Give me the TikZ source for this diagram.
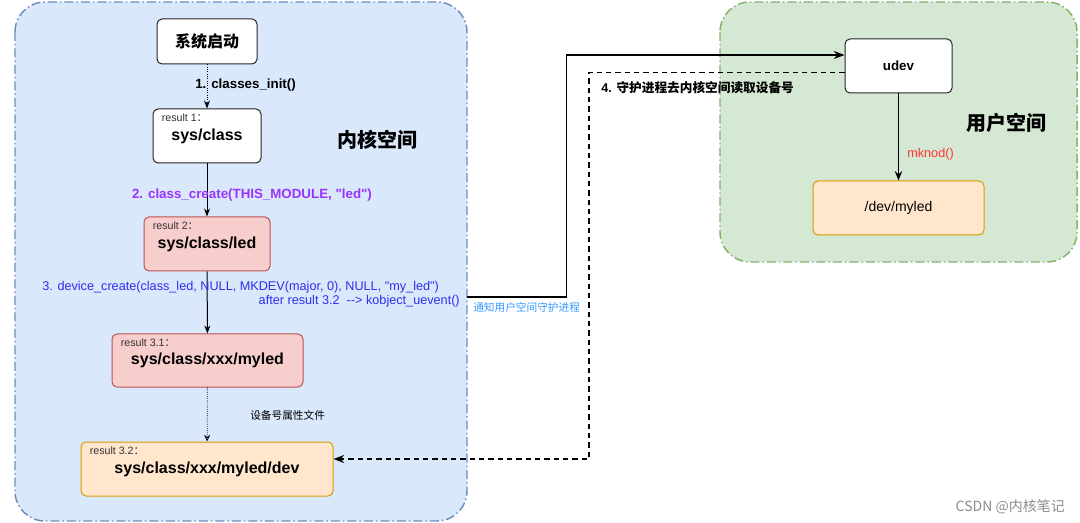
\documentclass[tikz,border=0pt]{standalone}
\usepackage{fontspec}
\setmainfont{Liberation Sans}[Ligatures=TeXOff]
\newfontfamily\cjk{Noto Sans CJK SC}
\usetikzlibrary{arrows.meta,positioning}

\newlength\pxu
\setlength\pxu{0.75pt}

\definecolor{kernelfill}{HTML}{DAE8FC}
\definecolor{kernelline}{HTML}{6C8EBF}
\definecolor{userfill}{HTML}{D5E8D4}
\definecolor{userline}{HTML}{82B366}
\definecolor{redfill}{HTML}{F8CECC}
\definecolor{redline}{HTML}{B85450}
\definecolor{orangefill}{HTML}{FFE6CC}
\definecolor{orangeline}{HTML}{D79B00}
\definecolor{stepviolet}{HTML}{9933FF}
\definecolor{stepblue}{HTML}{2E2EF0}
\definecolor{notifyblue}{HTML}{3399FF}
\definecolor{mkred}{HTML}{FF3333}

\tikzset{
  zone/.style={line width=1.1pt, rounded corners=30\pxu, dash pattern=on 9\pxu off 3\pxu on 1.5\pxu off 3\pxu},
  zonetitle/.style={font=\cjk\bfseries\fontsize{15}{18}\selectfont},
  plainbox/.style={draw=black!85, fill=white, rounded corners=5\pxu, line width=0.75pt, font=\bfseries\fontsize{12}{14}\selectfont},
  redbox/.style={plainbox, draw=redline, fill=redfill},
  orangebox/.style={plainbox, draw=orangeline, fill=orangefill},
  tag/.style={anchor=north west, inner sep=0pt, text=black!80, font=\fontsize{8}{9}\selectfont},
  steplabel/.style={inner sep=0pt, font=\bfseries\fontsize{10}{12}\selectfont},
  smalllabel/.style={inner sep=0pt, font=\cjk\fontsize{8}{9}\selectfont},
  flow/.style={line width=0.75pt, -{Stealth[length=6pt,width=4.5pt]}},
  longdash/.style={dash pattern=on 4pt off 3pt},
}

\begin{document}
\begin{tikzpicture}[x=0.75pt,y=-0.75pt]
\useasboundingbox (0,0) rectangle (1080,523);

% two spaces
\draw[zone, draw=kernelline, fill=kernelfill] (15,2) rectangle (467,521);
\draw[zone, draw=userline, fill=userfill] (720,2) rectangle (1077,262);
\node[zonetitle] (kerneltitle) at (377,140) {内核空间};
\node[zonetitle] (usertitle) at (1006,123) {用户空间};

% kernel side
\node[plainbox, minimum width=100\pxu, minimum height=45\pxu] (boot) at (207,41.5) {\cjk 系统启动};
\node[plainbox, minimum width=108\pxu, minimum height=54\pxu] (sysclass) at (207,136) {sys/class};
\node[redbox, minimum width=126\pxu, minimum height=54\pxu] (classled) at (207,244) {sys/class/led};
\node[redbox, minimum width=191\pxu, minimum height=53\pxu] (myled) at (207.5,360.5) {sys/class/xxx/myled};
\node[orangebox, minimum width=252\pxu, minimum height=54\pxu] (devfile) at (207,469) {sys/class/xxx/myled/dev};

\node[tag] (sysclasstag) at ([shift={(9,5)}]sysclass.north west) {result 1{\cjk ：}};
\node[tag] (classledtag) at ([shift={(9,5)}]classled.north west) {result 2{\cjk ：}};
\node[tag] (myledtag) at ([shift={(9,5)}]myled.north west) {result 3.1{\cjk ：}};
\node[tag] (devfiletag) at ([shift={(9,5)}]devfile.north west) {result 3.2{\cjk ：}};

\draw[flow, densely dotted] (boot) -- (sysclass);
\draw[flow] (sysclass) -- (classled);
\draw[flow] (classled) -- (myled);
\draw[line width=0.6pt, densely dotted, -{Stealth[open,length=5pt,width=4.5pt]}] (myled) -- (devfile);

\node[steplabel, anchor=west] (initlabel) at (195,85) {1. classes\_init()};
\node[steplabel, text=stepviolet] (createlabel) at (252,195) {2. class\_create(THIS\_MODULE, "led")};
\node[inner sep=0pt, anchor=west, text=stepblue, font=\fontsize{9.5}{11}\selectfont] (devlabel) at (42,287) {3. device\_create(class\_led, NULL, MKDEV(major, 0), NULL, "my\_led")};
\node[inner sep=0pt, anchor=east, text=stepblue, font=\fontsize{9.5}{11}\selectfont] (ueventlabel) at (460,301) {after result 3.2\ \ --> kobject\_uevent()};
\node[smalllabel, anchor=west] (attrlabel) at (250,415) {设备号属性文件};

% user side
\node[plainbox, minimum width=107\pxu, minimum height=54\pxu, font=\bfseries\fontsize{10}{12}\selectfont] (udev) at (898.5,66) {udev};
\node[orangebox, minimum width=171\pxu, minimum height=54\pxu, font=\fontsize{10.5}{12}\selectfont] (mydev) at (898.5,208) {/dev/myled};
\draw[line width=1.4pt, -{Stealth[length=7pt,width=5.5pt]}] (udev) -- (mydev);
\node[inner sep=0pt, anchor=west, text=mkred, font=\fontsize{9.5}{11}\selectfont] (mknodlabel) at (907,154) {mknod()};

% between the spaces
\coordinate (uevent) at (467,297);
\draw[line width=1.1pt, -{Stealth[length=8pt,width=6pt]}] (uevent) -- (566.5,297) |- ([shift={(0,-11)}]udev.west);
\draw[line width=1.1pt, longdash, -{Stealth[length=8pt,width=6pt]}] ([shift={(0,6.5)}]udev.west) -| (589,459) -- ([shift={(0,-10)}]devfile.east);
\node[smalllabel, anchor=west, text=notifyblue] (notifylabel) at (473,307) {通知用户空间守护进程};
\node[inner sep=0pt, anchor=west, font=\bfseries\fontsize{9.5}{11}\selectfont] (readlabel) at (601,88) {4. {\cjk 守护进程去内核空间读取设备号}};

\node[inner sep=0pt, anchor=east, text=black!45, font=\cjk\fontsize{10.5}{12}\selectfont] (mark) at (1065,507) {CSDN @内核笔记};

\end{tikzpicture}
\end{document}
